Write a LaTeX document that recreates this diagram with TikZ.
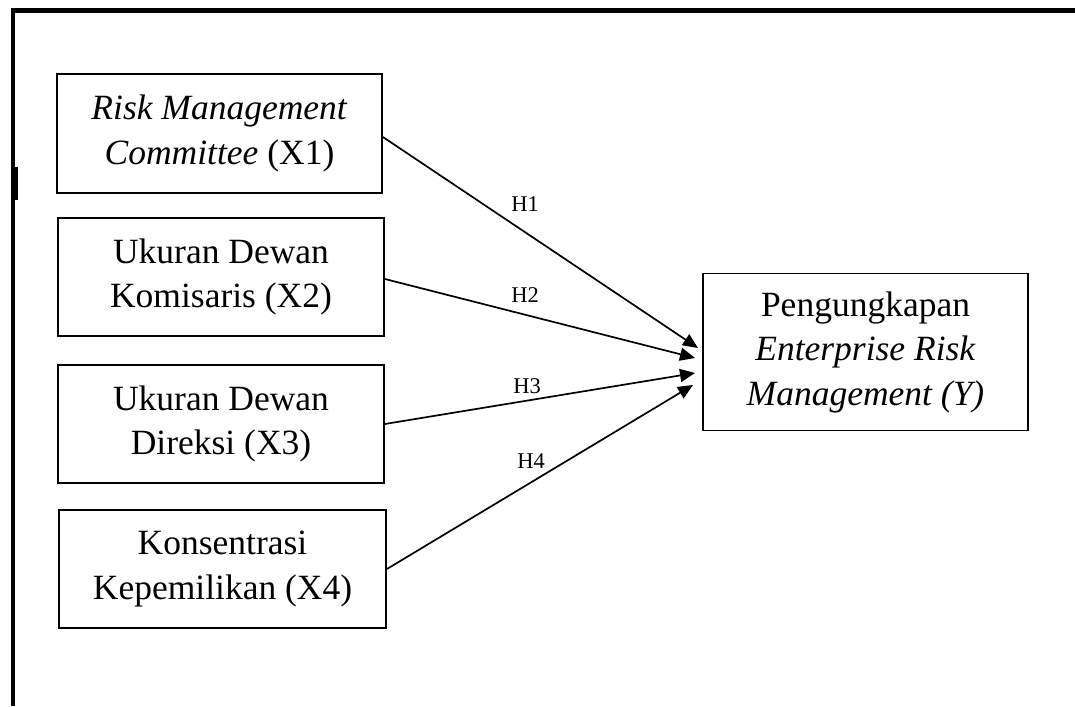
\documentclass[tikz,border=0pt]{standalone}
\usepackage{fontspec}
\setmainfont{Liberation Serif}
\usetikzlibrary{arrows.meta}
\begin{document}
\begin{tikzpicture}[x=1pt,y=-1pt,
  box/.style={draw, line width=1.8pt, align=center, inner sep=0pt,
    font=\fontsize{35.5}{44.5}\selectfont},
  link/.style={line width=1.7pt, -{Triangle[length=15pt,width=13pt]}},
  hlab/.style={font=\fontsize{22.5}{25}\selectfont, inner sep=0pt},
  frame/.style={line width=4.5pt}]
\useasboundingbox (0,0) rectangle (1075,706);
\draw[frame] (1075,10.5) -- (13,10.5) -- (13,706);
\fill (13,167) rectangle (17.5,200);
\node[box, minimum width=325pt, minimum height=119pt] (X1) at (219.5,133.5)
  {\textit{Risk Management}\\\textit{Committee} (X1)};
\node[box, minimum width=326pt, minimum height=118pt] (X2) at (221,277)
  {Ukuran Dewan\\Komisaris (X2)};
\node[box, minimum width=326pt, minimum height=118pt] (X3) at (221,424)
  {Ukuran Dewan\\Direksi (X3)};
\node[box, minimum width=327pt, minimum height=118pt] (X4) at (222.5,569)
  {Konsentrasi\\Kepemilikan (X4)};
\node[box, minimum width=325pt, minimum height=157pt] (Y) at (865.5,352)
  {Pengungkapan\\\textit{Enterprise Risk}\\\textit{Management (Y)}};
\coordinate (t1) at (698,348);
\coordinate (t2) at (695,358);
\coordinate (t3) at (695,373);
\coordinate (t4) at (693,385);
\draw[link] (X1.east) ++(0,3.5) coordinate (s1) -- (t1);
\draw[link] (X2.east) ++(0,2) coordinate (s2) -- (t2);
\draw[link] (X3.east) -- (t3);
\draw[link] (X4.east) -- (t4);
\node[hlab] (h1) at (525,204) {H1};
\node[hlab] (h2) at (525,295) {H2};
\node[hlab] (h3) at (527,386) {H3};
\node[hlab] (h4) at (531,461) {H4};
\end{tikzpicture}
\end{document}
